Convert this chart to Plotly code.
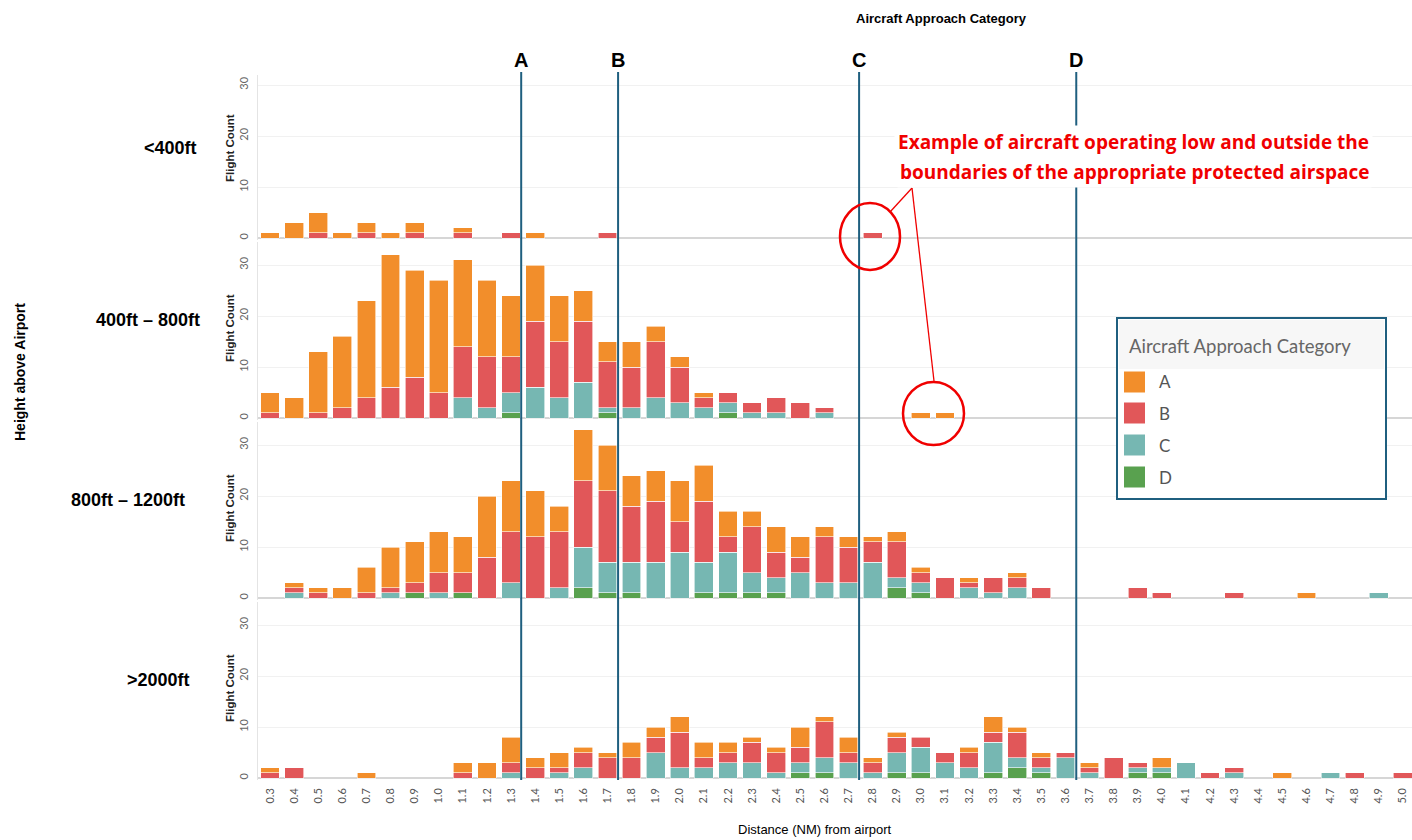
import plotly.graph_objects as go
from plotly.subplots import make_subplots

# ---------------- DATA ----------------
distances = ["0.3", "0.4", "0.5", "0.6", "0.7", "0.8", "0.9", "1.0", "1.1", "1.2",
             "1.3", "1.4", "1.5", "1.6", "1.7", "1.8", "1.9", "2.0", "2.1", "2.2",
             "2.3", "2.4", "2.5", "2.6", "2.7", "2.8", "2.9", "3.0", "3.1", "3.2",
             "3.3", "3.4", "3.5", "3.6", "3.7", "3.8", "3.9", "4.0", "4.1", "4.2",
             "4.3", "4.4", "4.5", "4.6", "4.7", "4.8", "4.9", "5.0"]

height_bands = ["<400ft", "400ft \u2013 800ft", "800ft \u2013 1200ft", ">2000ft"]
categories = ["A", "B", "C", "D"]
colors = {"A": "#f28e2b", "B": "#e15759", "C": "#76b7b2", "D": "#59a14f"}

# <400ft
low_A = [1, 3, 4, 1, 2, 1, 2, 0, 1, 0,  0, 1, 0, 0, 0, 0, 0, 0, 0, 0,
         0, 0, 0, 0, 0, 0, 0, 0, 0, 0,  0, 0, 0, 0, 0, 0, 0, 0, 0, 0,  0, 0, 0, 0, 0, 0, 0, 0]
low_B = [0, 0, 1, 0, 1, 0, 1, 0, 1, 0,  1, 0, 0, 0, 1, 0, 0, 0, 0, 0,
         0, 0, 0, 0, 0, 1, 0, 0, 0, 0,  0, 0, 0, 0, 0, 0, 0, 0, 0, 0,  0, 0, 0, 0, 0, 0, 0, 0]
low_C = [0] * 48
low_D = [0] * 48

# 400ft - 800ft
mid_A = [4, 4, 12, 14, 19, 26, 21, 22, 17, 15,  12, 11, 9, 6, 4, 5, 3, 2, 1, 0,
         0, 0, 0, 0, 0, 0, 0, 1, 1, 0,  0, 0, 0, 0, 0, 0, 0, 0, 0, 0,  0, 0, 0, 0, 0, 0, 0, 0]
mid_B = [1, 0, 1, 2, 4, 6, 8, 5, 10, 10,  7, 13, 11, 12, 9, 8, 11, 7, 2, 2,
         2, 3, 3, 1, 0, 0, 0, 0, 0, 0,  0, 0, 0, 0, 0, 0, 0, 0, 0, 0,  0, 0, 0, 0, 0, 0, 0, 0]
mid_C = [0, 0, 0, 0, 0, 0, 0, 0, 4, 2,  4, 6, 4, 7, 1, 2, 4, 3, 2, 2,
         1, 1, 0, 1, 0, 0, 0, 0, 0, 0,  0, 0, 0, 0, 0, 0, 0, 0, 0, 0,  0, 0, 0, 0, 0, 0, 0, 0]
mid_D = [0, 0, 0, 0, 0, 0, 0, 0, 0, 0,  1, 0, 0, 0, 1, 0, 0, 0, 0, 1,
         0, 0, 0, 0, 0, 0, 0, 0, 0, 0,  0, 0, 0, 0, 0, 0, 0, 0, 0, 0,  0, 0, 0, 0, 0, 0, 0, 0]

# 800ft - 1200ft
upp_A = [0, 1, 1, 2, 5, 8, 8, 8, 7, 12,  10, 9, 5, 10, 9, 6, 6, 8, 7, 5,
         3, 5, 4, 2, 2, 1, 2, 1, 0, 1,  0, 1, 0, 0, 0, 0, 0, 0, 0, 0,  0, 0, 0, 1, 0, 0, 0, 0]
upp_B = [0, 1, 1, 0, 1, 1, 2, 4, 4, 8,  10, 12, 11, 13, 14, 11, 12, 6, 12, 3,
         9, 5, 3, 9, 7, 4, 7, 2, 4, 1,  3, 2, 2, 0, 0, 0, 2, 1, 0, 0,  1, 0, 0, 0, 0, 0, 0, 0]
upp_C = [0, 1, 0, 0, 0, 1, 0, 1, 0, 0,  3, 0, 2, 8, 6, 6, 7, 9, 6, 8,
         4, 3, 5, 3, 3, 7, 2, 2, 0, 2,  1, 2, 0, 0, 0, 0, 0, 0, 0, 0,  0, 0, 0, 0, 0, 0, 1, 0]
upp_D = [0, 0, 0, 0, 0, 0, 1, 0, 1, 0,  0, 0, 0, 2, 1, 1, 0, 0, 1, 1,
         1, 1, 0, 0, 0, 0, 2, 1, 0, 0,  0, 0, 0, 0, 0, 0, 0, 0, 0, 0,  0, 0, 0, 0, 0, 0, 0, 0]

# >2000ft
high_A = [1, 0, 0, 0, 1, 0, 0, 0, 2, 3,  5, 2, 3, 1, 1, 3, 2, 3, 3, 2,
          1, 1, 4, 1, 3, 1, 1, 0, 0, 1,  3, 1, 1, 0, 1, 0, 0, 2, 0, 0,  0, 0, 1, 0, 0, 0, 0, 0]
high_B = [1, 2, 0, 0, 0, 0, 0, 0, 1, 0,  2, 2, 1, 3, 4, 4, 3, 7, 2, 2,
          4, 4, 3, 7, 2, 2, 3, 2, 2, 3,  2, 5, 2, 1, 1, 4, 1, 0, 0, 1,  1, 0, 0, 0, 0, 1, 0, 1]
high_C = [0, 0, 0, 0, 0, 0, 0, 0, 0, 0,  1, 0, 1, 2, 0, 0, 5, 2, 2, 3,
          3, 1, 2, 3, 3, 1, 4, 5, 3, 2,  6, 2, 1, 4, 1, 0, 1, 1, 3, 0,  1, 0, 0, 0, 1, 0, 0, 0]
high_D = [0, 0, 0, 0, 0, 0, 0, 0, 0, 0,  0, 0, 0, 0, 0, 0, 0, 0, 0, 0,
          0, 0, 1, 1, 0, 0, 1, 1, 0, 0,  1, 2, 1, 0, 0, 0, 1, 1, 0, 0,  0, 0, 0, 0, 0, 0, 0, 0]

rows_data = [
    {"A": low_A, "B": low_B, "C": low_C, "D": low_D},
    {"A": mid_A, "B": mid_B, "C": mid_C, "D": mid_D},
    {"A": upp_A, "B": upp_B, "C": upp_C, "D": upp_D},
    {"A": high_A, "B": high_B, "C": high_C, "D": high_D},
]

boundary_labels = ["A", "B", "C", "D"]
boundary_pos = [10.42, 14.44, 24.44, 33.45]   # positions between distance bins

# ---------------- LAYOUT HELPERS ----------------
W, H = 1412, 840
def px(x):
    return x / W
def py(y):
    return 1 - y / H

baselines = [238, 418, 598, 778]
row_tops = [75, 242, 422, 602]
FONT = "Liberation Sans"
TICKFONT = "Lato"
LINE_COL = "#1f5f7f"
PX_PER_UNIT = 5.1

fig = make_subplots(rows=4, cols=1, shared_xaxes=True, vertical_spacing=0)

for r, data in enumerate(rows_data, start=1):
    for cat in ["D", "C", "B", "A"]:
        fig.add_trace(go.Bar(
            x=distances, y=[v if v else None for v in data[cat]], name=cat,
            marker=dict(color=colors[cat], line=dict(color="white", width=0.6)),
            showlegend=False,
            hovertemplate="Distance %{x} NM<br>Category " + cat + ": %{y}<extra></extra>",
        ), row=r, col=1)

fig.update_layout(barmode="stack", bargap=0.22)

for r in range(1, 5):
    b = baselines[r - 1]
    top = row_tops[r - 1]
    dom = [py(b + 2), py(top)]
    ytop = (b - top) / PX_PER_UNIT
    yname = "yaxis" if r == 1 else f"yaxis{r}"
    xname = "xaxis" if r == 1 else f"xaxis{r}"
    fig.layout[yname].update(
        domain=dom, range=[-0.39, ytop], tickvals=[0, 10, 20, 30],
        tickangle=-90, tickfont=dict(family=TICKFONT, size=11, color="#666"),
        ticklabelstandoff=5,
        showgrid=True, gridcolor="#f1f1f1", gridwidth=1,
        zeroline=True, zerolinecolor="#d6d6d6", zerolinewidth=1.5,
        showline=True, linecolor="#e4e4e4", linewidth=1,
        automargin=False, fixedrange=True,
    )
    fig.layout[xname].update(
        domain=[px(258), 1.0], range=[-0.5, 47.38],
        type="category", categoryorder="array", categoryarray=distances,
        showgrid=False, zeroline=False, showline=False, automargin=False,
        showticklabels=(r == 4), tickangle=-90,
        tickfont=dict(family=TICKFONT, size=11, color="#555"),
        ticklabelstandoff=5,
        ticks="",
    )

fig.update_layout(
    width=W, height=H,
    margin=dict(l=0, r=0, t=0, b=0),
    paper_bgcolor="white", plot_bgcolor="white",
    template="none",
    showlegend=False,
)

shapes = []
annotations = []

# boundary lines A-D
for lab, pos in zip(boundary_labels, boundary_pos):
    shapes.append(dict(type="line", xref="x4", yref="paper", x0=pos, x1=pos,
                       y0=py(780), y1=py(72), line=dict(color=LINE_COL, width=2), layer="above"))
    annotations.append(dict(text=f"<b>{lab}</b>", xref="x4", yref="paper", x=pos, y=py(60),
                            showarrow=False, font=dict(family=FONT, size=20, color="black"),
                            xanchor="center", yanchor="middle"))

# row labels
row_label_pos = [(170, 148), (148, 320), (128, 500), (158, 680)]
for lab, (x, y) in zip(height_bands, row_label_pos):
    annotations.append(dict(text=f"<b>{lab}</b>", xref="paper", yref="paper", x=px(x), y=py(y),
                            showarrow=False, font=dict(family=FONT, size=18, color="black"),
                            xanchor="center", yanchor="middle"))

# Flight Count titles
for b in baselines:
    annotations.append(dict(text="<b>Flight Count</b>", xref="paper", yref="paper", x=px(230), y=py(b - 90),
                            showarrow=False, textangle=-90,
                            font=dict(family=FONT, size=11.5, color="#222"),
                            xanchor="center", yanchor="middle"))

annotations.append(dict(text="<b>Height above Airport</b>", xref="paper", yref="paper", x=px(20), y=py(372),
                        showarrow=False, textangle=-90, font=dict(family=FONT, size=14, color="black"),
                        xanchor="center", yanchor="middle"))
annotations.append(dict(text="<b>Aircraft Approach Category</b>", xref="paper", yref="paper", x=px(941), y=py(18),
                        showarrow=False, font=dict(family=FONT, size=13, color="black"),
                        xanchor="center", yanchor="middle"))
annotations.append(dict(text="Distance (NM) from airport", xref="paper", yref="paper", x=px(815), y=py(829),
                        showarrow=False, font=dict(family=FONT, size=13, color="black"),
                        xanchor="center", yanchor="middle"))

# red callout
annotations.append(dict(text="<b>Example of aircraft operating low and outside the</b>", xref="paper", yref="paper",
                        x=px(1133), y=py(142), showarrow=False, bgcolor="white", borderpad=3,
                        font=dict(family="Open Sans", size=19, color="#f00000"), xanchor="center", yanchor="middle"))
annotations.append(dict(text="<b>boundaries of the appropriate protected airspace</b>", xref="paper", yref="paper",
                        x=px(1134), y=py(172), showarrow=False, bgcolor="white", borderpad=2,
                        font=dict(family="Open Sans", size=19, color="#f00000"), xanchor="center", yanchor="middle"))
shapes.append(dict(type="circle", xref="paper", yref="paper", x0=px(840), x1=px(900), y0=py(270), y1=py(203),
                   line=dict(color="#f00000", width=2.5), layer="above"))
shapes.append(dict(type="circle", xref="paper", yref="paper", x0=px(903), x1=px(964), y0=py(445), y1=py(382),
                   line=dict(color="#f00000", width=2.5), layer="above"))
shapes.append(dict(type="line", xref="paper", yref="paper", x0=px(912), y0=py(188), x1=px(890), y1=py(212),
                   line=dict(color="#f00000", width=1.3), layer="above"))
shapes.append(dict(type="line", xref="paper", yref="paper", x0=px(912), y0=py(188), x1=px(934), y1=py(381),
                   line=dict(color="#f00000", width=1.3), layer="above"))

# legend box
shapes.append(dict(type="rect", xref="paper", yref="paper", x0=px(1117), x1=px(1386), y0=py(499), y1=py(318),
                   line=dict(color=LINE_COL, width=2), fillcolor="white", layer="above"))
shapes.append(dict(type="rect", xref="paper", yref="paper", x0=px(1119), x1=px(1384), y0=py(369), y1=py(320),
                   line=dict(width=0), fillcolor="#f7f7f7", layer="above"))
annotations.append(dict(text="Aircraft Approach Category", xref="paper", yref="paper", x=px(1127), y=py(346),
                        showarrow=False, font=dict(family=TICKFONT, size=18.5, color="#666"),
                        xanchor="left", yanchor="middle"))
item_y = [382, 413, 445, 477]
for cat, y in zip(categories, item_y):
    shapes.append(dict(type="rect", xref="paper", yref="paper", x0=px(1124), x1=px(1145),
                       y0=py(y + 10.5), y1=py(y - 10.5), line=dict(width=0),
                       fillcolor=colors[cat], layer="above"))
    annotations.append(dict(text=cat, xref="paper", yref="paper", x=px(1157), y=py(y),
                            showarrow=False, font=dict(family=TICKFONT, size=17, color="#555"),
                            xanchor="left", yanchor="middle"))

fig.update_layout(shapes=shapes, annotations=annotations)

fig.write_html("out.html", config={"displayModeBar": False},
               post_script="document.body.style.margin='0px';")
